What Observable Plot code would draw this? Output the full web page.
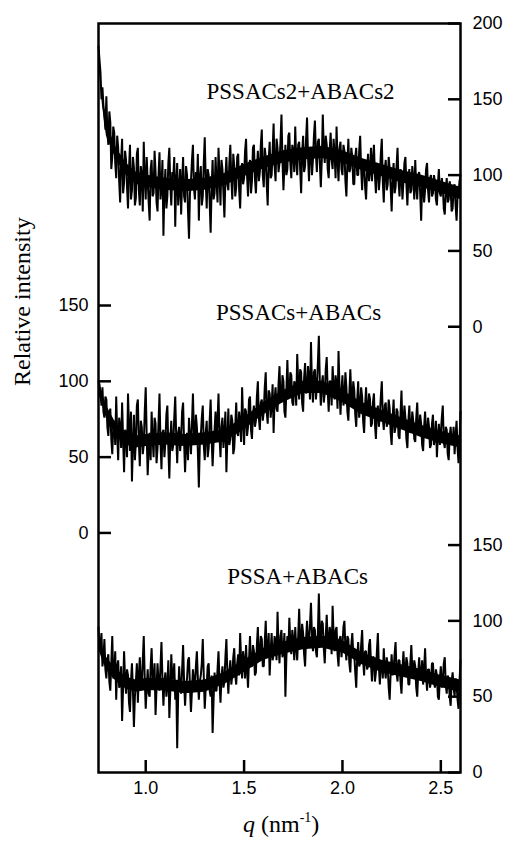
<!DOCTYPE html>
<html>
<head>
<meta charset="utf-8">
<script src="https://cdn.jsdelivr.net/npm/d3@7"></script>
<script src="https://cdn.jsdelivr.net/npm/@observablehq/plot@0.6"></script>
<style>
  html, body { margin: 0; padding: 0; background: #fff; overflow: hidden; }
  #chart svg { display: block; }
  #xtitle { font-family: "Liberation Serif", "Times New Roman", serif; font-size: 24px; line-height: 24px; height: 29px; width: 514px; padding-top: 12px; white-space: nowrap; }
  #xtitle span.in { display: inline-block; margin-left: 243px; }
  #xtitle sup { font-size: 14px; vertical-align: baseline; position: relative; top: -0.75em; line-height: 0; }
</style>
</head>
<body>
<div id="chart"></div>
<div id="xtitle"><span class="in"><i>q</i> (nm<sup>-1</sup>)</span></div>
<script>
// q grid (nm^-1) on which the noisy traces were read
const qStart = 0.76;
const qStep = 0.005;

// Relative intensity (each trace on its own axis)
const pssacs2Abacs2 = [
  185,176,168,150,158,146,140,130,152,128,120,142,135,104,112,132,128,108,98,126,
  118,96,82,110,124,88,95,116,110,92,78,104,120,84,90,112,105,80,85,114,
  118,90,80,106,100,76,122,98,84,112,96,82,70,104,110,86,88,116,102,82,
  76,100,115,84,92,110,60,90,104,78,86,108,118,94,80,102,98,112,66,96,
  108,80,90,104,74,96,112,86,82,106,100,76,58,88,96,110,120,92,84,102,
  94,114,70,98,106,80,86,108,125,96,78,104,100,82,62,92,110,84,88,112,
  96,82,118,100,80,110,104,88,72,98,112,94,90,108,120,98,84,114,106,86,
  92,112,114,90,78,102,108,94,98,116,124,100,86,106,110,88,96,118,120,98,
  88,104,116,96,102,120,130,100,92,118,112,94,80,110,122,98,100,116,134,106,
  96,124,118,102,108,122,140,110,90,106,120,100,104,126,128,108,98,120,116,102,
  132,110,100,120,122,104,88,114,126,102,106,124,138,112,96,118,118,100,110,126,
  136,114,102,122,124,108,92,110,140,118,108,126,120,104,98,116,128,110,104,124,
  114,98,132,110,96,118,122,104,100,120,116,96,86,108,124,102,104,118,112,94,
  94,112,118,100,100,116,126,104,90,108,110,92,84,102,114,96,102,118,96,110,
  120,100,88,108,106,90,98,114,124,96,82,104,110,90,94,112,104,92,76,98,
  108,88,92,106,118,96,86,104,100,84,96,108,112,94,80,98,104,88,90,106,
  98,84,110,92,84,100,102,88,70,94,96,82,90,104,108,90,82,98,100,86,
  88,100,96,84,80,94,104,88,86,98,92,78,74,90,98,82,84,96,90,76,
  78,92,94,80,70,86,88,96,100
];
const pssacsAbacs = [
  100,98,92,84,96,80,76,90,88,70,64,78,82,62,52,70,74,58,90,66,
  48,76,70,56,86,62,40,68,66,50,92,70,54,80,34,58,78,48,60,84,
  88,60,44,74,70,52,58,80,96,64,38,56,66,48,80,62,50,76,72,46,
  56,72,92,60,42,66,68,50,60,78,84,56,36,62,74,54,58,76,90,64,
  46,66,70,54,62,80,86,60,40,58,66,48,76,64,52,72,92,66,58,78,
  70,54,30,58,64,76,84,58,48,66,74,50,56,74,88,62,44,60,68,80,
  60,74,92,64,50,70,76,56,66,80,40,62,82,58,62,78,74,52,56,70,
  86,66,64,80,72,60,96,74,58,82,80,64,70,88,90,68,62,78,84,70,
  74,90,100,76,68,86,88,74,80,96,106,80,72,94,92,76,84,98,66,88,
  96,82,80,98,110,88,86,104,100,80,76,94,114,92,90,106,104,86,84,100,
  98,84,118,100,88,108,106,86,80,102,112,92,94,110,102,88,126,98,86,106,
  108,88,96,112,130,100,84,98,104,86,92,108,116,94,80,100,100,84,110,96,
  88,104,98,82,120,96,78,94,104,84,90,106,96,80,74,92,108,90,86,100,
  94,78,70,88,100,76,84,96,90,74,66,84,96,78,80,92,88,70,72,86,
  92,72,62,80,84,70,78,90,100,76,68,84,86,70,74,88,82,66,58,76,
  88,66,70,82,80,64,62,78,94,70,72,84,76,62,56,74,84,66,68,80,
  74,62,60,76,86,68,66,78,72,58,54,70,80,66,64,76,70,56,58,72,
  78,58,62,74,50,64,72,58,66,76,84,60,56,70,68,52,48,64,70,58,
  60,70,52,64,74,56,46,62,80
];
const pssaAbacs = [
  96,80,84,92,70,76,88,68,62,74,78,60,54,72,90,62,66,80,48,70,
  74,56,58,70,34,56,80,62,52,68,64,46,40,60,72,54,30,50,60,72,
  46,64,76,58,56,74,90,62,42,56,68,52,50,70,82,60,58,72,38,56,
  72,60,54,70,86,62,44,60,66,50,58,74,36,54,78,62,62,72,48,60,
  16,52,70,56,52,68,84,60,44,58,62,74,76,56,40,54,68,60,56,70,
  80,62,48,60,64,72,88,64,42,56,58,70,72,54,50,64,26,48,66,54,
  54,68,80,60,46,62,70,56,60,76,88,66,52,66,74,58,64,76,82,64,
  58,72,78,64,92,74,62,80,74,62,84,68,56,74,90,70,70,84,80,64,
  66,84,96,76,76,90,88,70,70,86,100,78,80,92,64,80,92,74,78,90,
  86,74,106,84,72,90,94,76,80,92,50,76,90,80,102,86,78,94,88,74,
  96,82,74,90,108,86,84,98,92,78,70,88,100,84,86,98,112,90,80,96,
  94,80,76,92,118,90,88,100,98,82,72,90,104,86,84,96,92,78,110,90,
  80,94,96,78,70,88,90,76,84,96,100,82,74,90,88,72,66,84,92,78,
  78,66,56,76,86,70,72,84,94,74,64,80,80,68,70,84,88,72,60,76,
  76,60,66,80,92,70,58,72,74,62,82,68,62,76,70,56,48,66,78,64,
  68,78,86,66,60,74,74,60,52,68,80,66,66,76,72,58,58,72,84,68,
  62,74,70,56,50,66,76,62,64,74,58,68,82,64,54,68,68,56,60,72,
  72,60,56,68,64,50,48,62,70,56,60,72,76,58,52,64,62,50,44,60,
  66,56,50,62,58,48,42,60,74
];

// narrow solid-black core of each trace
const bandQ = [0.76,0.78,0.80,0.85,0.90,0.95,1.0,1.1,1.2,1.3,1.4,1.5,1.6,1.7,1.8,1.9,2.0,2.1,2.2,2.3,2.4,2.5,2.6];
const topLow  = [176,146,126,110,100,94,92,90,89,90,93,99,104,108,110,111,108,103,99,95,92,88,84];
const topHigh = [184,154,134,118,108,102,100,98,97,98,101,107,112,116,118,119,116,111,107,103,100,96,92];
const midLow  = [92,84,76,64,58,56,57,58,57,58,60,68,78,86,92,92,86,78,73,68,63,59,56];
const midHigh = [100,92,84,72,66,64,65,66,65,66,68,76,86,94,100,100,94,86,81,76,71,67,64];
const botLow  = [82,74,68,60,55,53,54,54,52,53,58,66,74,78,81,82,79,71,66,63,60,56,53];
const botHigh = [90,82,76,68,63,61,62,62,60,61,66,74,82,86,89,90,87,79,74,71,68,64,61];

const seriesNames = ["PSSACs2+ABACs2", "PSSACs+ABACs", "PSSA+ABACs"];
const seriesValues = [pssacs2Abacs2, pssacsAbacs, pssaAbacs];
const bandLows = [topLow, midLow, botLow];
const bandHighs = [topHigh, midHigh, botHigh];
const seriesOffsets = [294, 158, 0];     // vertical stacking offset of each trace
const labelQ = [1.787, 1.777, 1.772];     // label position along q
const labelI = [155, 145, 129];           // label height in each trace's own units

const xTicks = [1.0, 1.5, 2.0, 2.5];
const leftTickValues = [0, 50, 100, 150];          // middle trace (left axis)
const rightTopTickValues = [0, 50, 100, 150, 200]; // top trace (right axis)
const rightBotTickValues = [0, 50, 100, 150];      // bottom trace (right axis)

const rows = [];
seriesValues.forEach((vals, s) => {
  vals.forEach((v, i) => rows.push({q: +(qStart + i * qStep).toFixed(3), y: v + seriesOffsets[s], s: seriesNames[s]}));
});
const bands = [];
bandLows.forEach((lo, s) => {
  lo.forEach((v, i) => bands.push({q: bandQ[i], y1: v + seriesOffsets[s], y2: bandHighs[s][i] + seriesOffsets[s], s: seriesNames[s]}));
});
const labels = seriesNames.map((n, s) => ({name: n, q: labelQ[s], y: labelI[s] + seriesOffsets[s]}));

const leftTicks = leftTickValues.map(v => ({y: v + seriesOffsets[1], t: String(v)}));
const rightTicks = [
  ...rightTopTickValues.map(v => ({y: v + seriesOffsets[0], t: String(v)})),
  ...rightBotTickValues.map(v => ({y: v + seriesOffsets[2], t: String(v)}))
];

const W = 514, H = 800, mL = 98, mR = 54, mT = 23, mB = 28;
const innerW = W - mL - mR, innerH = H - mT - mB;

const chart = Plot.plot({
  width: W, height: H,
  marginLeft: mL, marginRight: mR, marginTop: mT, marginBottom: mB,
  style: {fontFamily: "'Liberation Sans', Arial, sans-serif", fontSize: "18px", color: "black", background: "white", overflow: "visible"},
  x: {domain: [0.76, 2.6], axis: null},
  y: {domain: [0, 494], axis: null},
  marks: [
    Plot.areaY(bands, {x: "q", y1: "y1", y2: "y2", z: "s", fill: "black"}),
    Plot.line(rows, {x: "q", y: "y", z: "s", stroke: "black", strokeWidth: 2, strokeLinejoin: "miter", strokeMiterlimit: 1}),
    Plot.frame({stroke: "black", strokeWidth: 2.5}),
    // inward ticks
    Plot.tickX(xTicks, {x: d => d, insetTop: innerH - 12, stroke: "black", strokeWidth: 2.5}),
    Plot.tickY(leftTicks, {y: "y", insetRight: innerW - 13, stroke: "black", strokeWidth: 2.5}),
    Plot.tickY(rightTicks, {y: "y", insetLeft: innerW - 12, stroke: "black", strokeWidth: 2.5}),
    // tick labels
    Plot.text(xTicks, {x: d => d, text: d => d.toFixed(1), frameAnchor: "bottom", dy: 21, fontSize: 18}),
    Plot.text(leftTicks, {y: "y", text: "t", frameAnchor: "left", dx: -10, textAnchor: "end", fontSize: 18}),
    Plot.text(rightTicks, {y: "y", text: "t", frameAnchor: "right", dx: 12, textAnchor: "start", fontSize: 18}),
    // trace labels
    Plot.text(labels, {x: "q", y: "y", text: "name", fontFamily: "'Liberation Serif', 'Times New Roman', serif", fontSize: 23}),
    // y-axis title
    Plot.text(["Relative intensity"], {frameAnchor: "left", dx: -76, dy: -12, rotate: -90, fontFamily: "'Liberation Serif', 'Times New Roman', serif", fontSize: 24})
  ]
});
document.getElementById("chart").appendChild(chart);
</script>
</body>
</html>
